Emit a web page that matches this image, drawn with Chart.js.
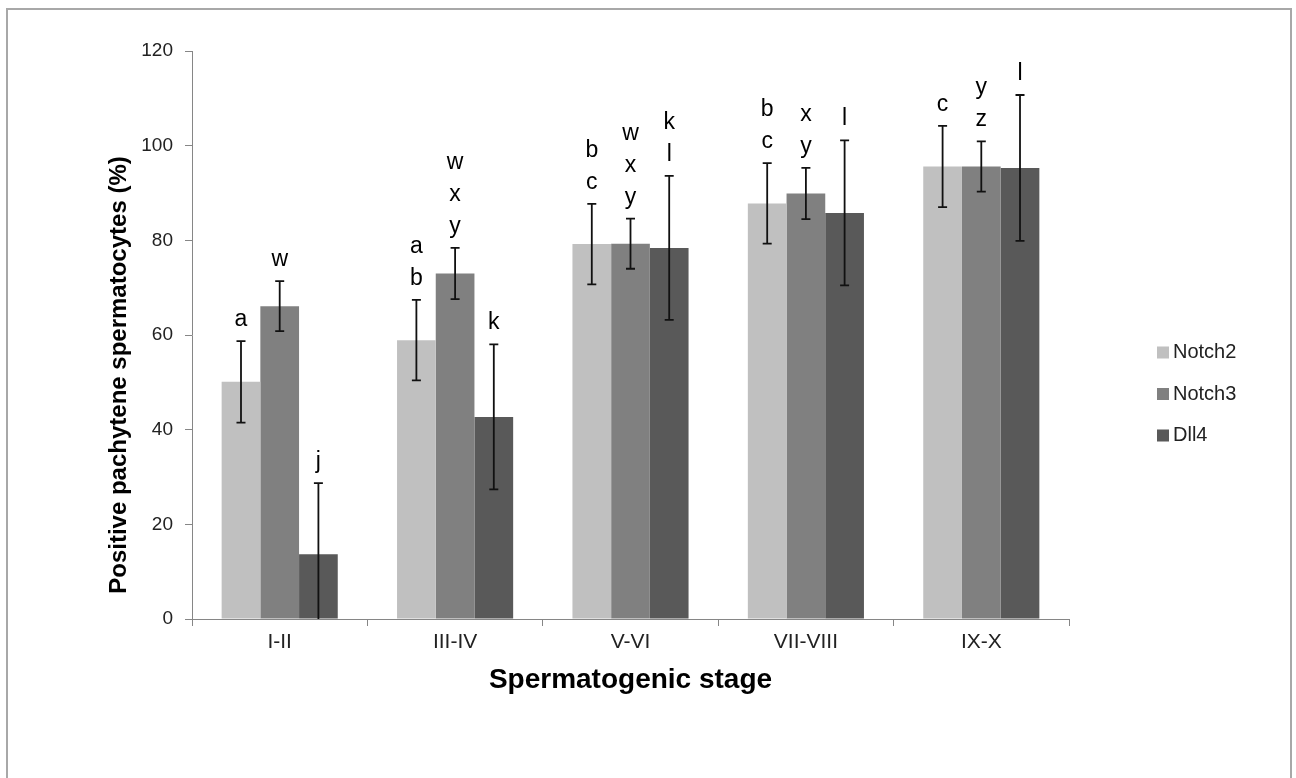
<!DOCTYPE html>
<html lang="en">
<head>
  <title>Positive pachytene spermatocytes</title>
  <script src="https://cdn.jsdelivr.net/npm/chart.js@4.4.1/dist/chart.umd.min.js"></script>
  <style>
    html, body { margin: 0; padding: 0; background: #fff; }
    #wrap { position: relative; width: 1296px; height: 778px; overflow: hidden; }
    #frame { position: absolute; left: 6px; top: 8px; width: 1286px; height: 800px;
             border: 2px solid #a8a8a8; box-sizing: border-box; }
    #c { position: absolute; left: 0; top: 0; }
  </style>
</head>
<body>
<div id="wrap">
  <div id="frame"></div>
  <canvas id="c" width="1296" height="778"></canvas>
</div>

<script>
// data
const stages = ['I-II', 'III-IV', 'V-VI', 'VII-VIII', 'IX-X'];
const seriesNames = ['Notch2', 'Notch3', 'Dll4'];

const notch2 = [50.1, 58.9, 79.2, 87.8, 95.6];
const notch3 = [66.1, 73.0, 79.3, 89.9, 95.6];
const dll4   = [13.7, 42.7, 78.4, 85.8, 95.3];

const notch2Err = [8.6, 8.5, 8.5, 8.5, 8.6];
const notch3Err = [5.3, 5.4, 5.3, 5.4, 5.3];
const dll4Err   = [15.0, 15.3, 15.2, 15.3, 15.4];

// significance letters, top to bottom
const notch2Letters = [['a'], ['a', 'b'], ['b', 'c'], ['b', 'c'], ['c']];
const notch3Letters = [['w'], ['w', 'x', 'y'], ['w', 'x', 'y'], ['x', 'y'], ['y', 'z']];
const dll4Letters   = [['j'], ['k'], ['k', 'l'], ['l'], ['l']];

const yTitle = 'Positive pachytene spermatocytes (%)';

const FONT = "'Liberation Sans', Arial, sans-serif";
const errs = [notch2Err, notch3Err, dll4Err];
const letters = [notch2Letters, notch3Letters, dll4Letters];

// error bars + letters above them
const errorBars = {
  id: 'errorBars',
  afterDatasetsDraw(chart) {
    const ctx = chart.ctx;
    const y = chart.scales.y;
    ctx.save();
    chart.data.datasets.forEach((ds, i) => {
      const meta = chart.getDatasetMeta(i);
      meta.data.forEach((bar, j) => {
        const v = ds.data[j], e = errs[i][j];
        const top = y.getPixelForValue(v + e);
        const bot = y.getPixelForValue(Math.max(0, v - e));
        const x = bar.x;
        ctx.strokeStyle = '#111';
        ctx.lineWidth = 1.8;
        ctx.beginPath();
        ctx.moveTo(x, top); ctx.lineTo(x, bot);
        ctx.moveTo(x - 4.5, top); ctx.lineTo(x + 4.5, top);
        if (v - e > 0) { ctx.moveTo(x - 4.5, bot); ctx.lineTo(x + 4.5, bot); }
        ctx.stroke();

        const lab = letters[i][j];
        ctx.fillStyle = '#000';
        ctx.font = '23px ' + FONT;
        ctx.textAlign = 'center';
        ctx.textBaseline = 'alphabetic';
        for (let k = 0; k < lab.length; k++) {
          const base = top - 15 - (lab.length - 1 - k) * 32;
          ctx.fillText(lab[k], x, base);
        }
      });
    });
    ctx.restore();
  }
};

// legend on the right + y title (Excel centres it a bit lower than the axis)
const sideText = {
  id: 'sideText',
  afterDraw(chart) {
    const ctx = chart.ctx;
    const ca = chart.chartArea;
    const x0 = ca.right + 88;
    ctx.save();
    ctx.font = '20px ' + FONT;
    ctx.textBaseline = 'middle';
    ctx.textAlign = 'left';
    chart.data.datasets.forEach((ds, i) => {
      const cy = 394 + (i - 1) * 41.5;
      ctx.fillStyle = ds.backgroundColor;
      ctx.fillRect(x0, cy - 6, 12, 12);
      ctx.fillStyle = '#222';
      ctx.fillText(ds.label, x0 + 16, cy);
    });

    ctx.translate(119, ca.bottom - 244);
    ctx.rotate(-Math.PI / 2);
    ctx.textAlign = 'center';
    ctx.fillStyle = '#000';
    ctx.font = 'bold 24px ' + FONT;
    ctx.fillText(yTitle, 0, 0);
    ctx.restore();
  }
};

const ctx = document.getElementById('c');
new Chart(ctx, {
  type: 'bar',
  data: {
    labels: stages,
    datasets: [
      { label: seriesNames[0], data: notch2, backgroundColor: '#c0c0c0' },
      { label: seriesNames[1], data: notch3, backgroundColor: '#808080' },
      { label: seriesNames[2], data: dll4,   backgroundColor: '#595959' }
    ]
  },
  options: {
    responsive: false,
    animation: false,
    layout: { padding: { top: 51, left: 105, right: 227, bottom: 79 } },
    datasets: { bar: { categoryPercentage: 0.662, barPercentage: 1.0 } },
    plugins: {
      legend: { display: false },
      tooltip: { enabled: false }
    },
    scales: {
      x: {
        afterFit(s) { s.height = 80; },
        grid: { drawOnChartArea: false, tickLength: 7, color: '#868686' },
        border: { color: '#868686' },
        ticks: { padding: 4, color: '#222', font: { family: FONT, size: 21 } },
        title: {
          display: true, text: 'Spermatogenic stage', color: '#000',
          font: { family: FONT, size: 28, weight: 'bold' },
          padding: { top: 0, bottom: 2 }
        }
      },
      y: {
        min: 0, max: 120,
        afterFit(s) { s.width = 87; },
        grid: { drawOnChartArea: false, tickLength: 7, color: '#868686' },
        border: { color: '#868686' },
        ticks: { stepSize: 20, padding: 12, color: '#222', font: { family: FONT, size: 19 } }
      }
    }
  },
  plugins: [errorBars, sideText]
});
</script>
</body>
</html>
